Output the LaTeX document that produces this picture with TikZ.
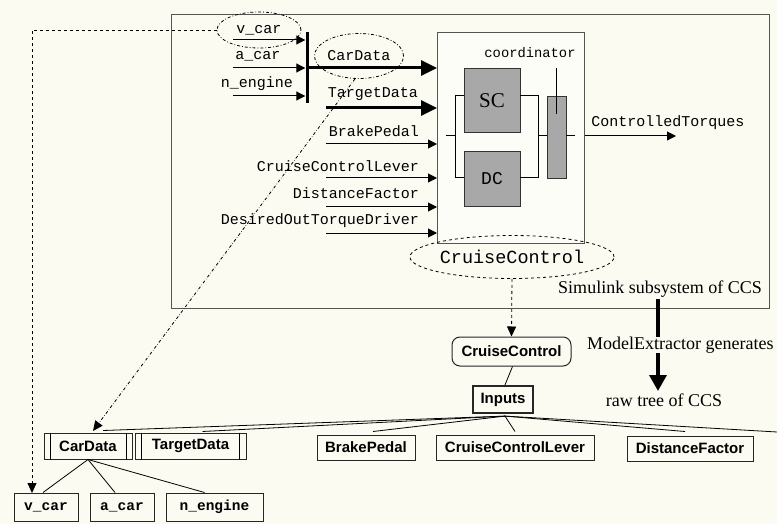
\documentclass[tikz,border=0pt]{standalone}
\usepackage{fontspec}
\setmainfont{Liberation Serif}
\newfontfamily\monofam{Liberation Mono}
\newfontfamily\sansfam{Liberation Sans}
\usetikzlibrary{arrows.meta,shapes.geometric,calc}

\definecolor{paper}{RGB}{251,251,242}
\definecolor{blockgray}{RGB}{168,168,168}
\definecolor{framegray}{RGB}{85,85,85}

\tikzset{
  sig/.style={draw=black, line width=1pt, -{Triangle[length=9pt,width=9pt]}},
  busarrow/.style={draw=black, line width=3pt, -{Triangle[length=16pt,width=15pt]}},
  wire/.style={draw=black, line width=1pt},
  mlabel/.style={font=\monofam\fontsize{15}{15}\selectfont, inner sep=0pt},
  sigellipse/.style={ellipse, draw=black, line width=0.8pt, inner sep=0pt},
  block/.style={draw=black!80, line width=1pt, fill=blockgray, inner sep=0pt, anchor=north west},
  treebox/.style={draw=black!85, line width=1pt, inner sep=0pt, minimum height=26pt,
    font=\sansfam\bfseries\fontsize{15}{15}\selectfont},
  leafbox/.style={draw=black!85, line width=1pt, inner sep=0pt, minimum height=28pt,
    font=\monofam\bfseries\fontsize{14.5}{14.5}\selectfont},
  treeedge/.style={draw=black, line width=0.8pt},
  note/.style={font=\fontsize{18}{18}\selectfont, inner sep=0pt},
}

\begin{document}
\begin{tikzpicture}[x=1pt,y=-1pt]
\fill[paper] (0,0) rectangle (777,524);
\useasboundingbox (0,0) rectangle (777,524);

% ---------- Simulink subsystem ----------
\node[draw=framegray, line width=1.4pt, minimum width=598pt, minimum height=294pt,
      inner sep=0pt, anchor=north west] (simbox) at (171,14) {};
\node[draw=framegray, line width=1.2pt, fill=white!40!paper, minimum width=147pt, minimum height=211pt,
      inner sep=0pt, anchor=north west] (ccbox) at (437,32) {};

% controllers and coordinator
\node[block, minimum width=56pt, minimum height=64pt] (sc) at (464,68) {};
\node[font=\fontsize{21}{21}\selectfont, inner sep=0pt] (sclab) at (492,101) {SC};
\node[block, minimum width=56pt, minimum height=55pt] (dc) at (464,151) {};
\node[font=\monofam\fontsize{18}{18}\selectfont, inner sep=0pt] (dclab) at (492,179) {DC};
\node[block, minimum width=19pt, minimum height=82pt] (coord) at (547,96) {};
\node[font=\monofam\fontsize{13.8}{13.8}\selectfont, inner sep=0pt] (coordlab) at (530,53) {coordinator};
\draw[wire] (556,68) -- (556,114);

\draw[wire] (464,96) -- (455,96) -- (455,178) -- (464,178);
\draw[wire] (446,136) -- (455,136);
\draw[wire] (520,96) -- (538,96) -- (538,178) -- (520,178);
\draw[wire] (538,136) -- (547,136);
\draw[wire] (566,136) -- (575,136);

% output
\coordinate (ctq) at (676,136);
\draw[sig] (ccbox.east |- ctq) -- (ctq);
\node[mlabel] (ctqlab) at (668,123) {ControlledTorques};

% bus creator for CarData
\node[fill=black, minimum width=3pt, minimum height=71pt, inner sep=0pt] (bus) at (307,67.5) {};
\coordinate (vin) at (233,40);
\coordinate (ain) at (233,68);
\coordinate (nin) at (233,96);
\draw[sig] (vin) -- (vin -| bus.west);
\draw[sig] (ain) -- (ain -| bus.west);
\draw[sig] (nin) -- (nin -| bus.west);
\node[sigellipse, dash dot, minimum width=84pt, minimum height=36pt, font=\monofam\fontsize{15}{15}\selectfont] (vell) at (259,30) {v\_car};
\node[mlabel] (alab) at (258,56) {a\_car};
\node[mlabel] (nlab) at (257,84) {n\_engine};

% inputs of the CruiseControl block
\coordinate (cdin) at (437,68);
\draw[busarrow] (bus.east |- cdin) -- (cdin);
\node[sigellipse, dash dot, minimum width=84pt, minimum height=45pt, font=\monofam\fontsize{15}{15}\selectfont] (cdell) at (359,56) {CarData};

\coordinate (tdtail) at (326,108);
\draw[busarrow] (tdtail) -- (tdtail -| ccbox.west);
\node[mlabel, anchor=east] (tdlab) at (418,94) {TargetData};

\coordinate (bptail) at (326,144);
\coordinate (cltail) at (326,178);
\coordinate (dftail) at (326,207);
\coordinate (dotail) at (326,233);
\draw[sig] (bptail) -- (bptail -| ccbox.west);
\draw[sig] (cltail) -- (cltail -| ccbox.west);
\draw[sig] (dftail) -- (dftail -| ccbox.west);
\draw[sig] (dotail) -- (dotail -| ccbox.west);
\node[mlabel, anchor=east] (bplab) at (419,131) {BrakePedal};
\node[mlabel, anchor=east] (cllab) at (419,166) {CruiseControlLever};
\node[mlabel, anchor=east] (dflab) at (419,193) {DistanceFactor};
\node[mlabel, anchor=east] (dolab) at (419,221) {DesiredOutTorqueDriver};

\node[sigellipse, dashed, minimum width=166pt, minimum height=43pt, font=\monofam\fontsize{18.5}{18.5}\selectfont] (ccell) at (512,257) {CruiseControl};

% ---------- extraction step ----------
\node[note] (simlab) at (660,289) {Simulink subsystem of CCS};
\coordinate (mxa) at (658,299);
\coordinate (mxb) at (658,391);
\draw[line width=3.5pt, -{Triangle[length=16pt,width=17pt]}] (mxa) -- (mxb);
\node[note, fill=paper, anchor=west] (mexlab) at (587,345) {ModelExtractor generates};
\node[note] (rawlab) at (664,400) {raw tree of CCS};

% ---------- raw tree ----------
\node[treebox, rounded corners=8pt, minimum width=119pt, minimum height=29pt] (tcc) at (511.5,351.5) {CruiseControl};
\node[treebox, line width=2.2pt, minimum width=60pt, minimum height=27pt] (tin) at (503,399.5) {Inputs};

\node[treebox, minimum width=88pt] (tcar) at (88,446) {CarData};
\draw[treeedge] ($(tcar.north west)+(7,0)$) -- ($(tcar.south west)+(7,0)$);
\draw[treeedge] ($(tcar.north east)+(-6,0)$) -- ($(tcar.south east)+(-6,0)$);
\node[treebox, minimum width=111pt] (ttd) at (190.5,446) {TargetData};
\draw[treeedge] ($(ttd.north west)+(7,0)$) -- ($(ttd.south west)+(7,0)$);
\draw[treeedge] ($(ttd.north east)+(-7,0)$) -- ($(ttd.south east)+(-7,0)$);
\node[treebox, minimum width=98pt, minimum height=25pt] (tbp) at (366,447.5) {BrakePedal};
\node[treebox, minimum width=158pt, minimum height=25pt] (tcl) at (515,447.5) {CruiseControlLever};
\node[treebox, minimum width=126pt, minimum height=25pt] (tdf) at (690,448.5) {DistanceFactor};
\coordinate (toff) at (777,432);

\node[leafbox, minimum width=64pt] (lv) at (46,507) {v\_car};
\node[leafbox, minimum width=64pt] (la) at (122,507) {a\_car};
\node[leafbox, minimum width=97pt] (ln) at (214.5,507) {n\_engine};

\draw[treeedge] ($(tcc.south)+(1,0)$) -- ($(tin.north)+(2,0)$);
\coordinate (tinb) at ($(tin.south)+(2,2)$);
\draw[treeedge] (tinb) -- ($(tcar.north)+(15,-2)$);
\draw[treeedge] (tinb) -- ($(ttd.north)+(12,-1)$);
\draw[treeedge] (tinb) -- ($(tbp.north)+(7,-3)$);
\draw[treeedge] (tinb) -- ($(tcl.north)+(0,-3)$);
\draw[treeedge] (tinb) -- ($(tdf.north)+(-5,-4)$);
\draw[treeedge] (tinb) -- (toff);

\draw[treeedge] (tcar.south) -- ($(lv.north)+(-3,0)$);
\draw[treeedge] (tcar.south) -- ($(la.north)+(-7,0)$);
\draw[treeedge] (tcar.south) -- ($(ln.north)+(-10,0)$);

% ---------- correspondence links ----------
\coordinate (vdrop) at (32,493);
\draw[dashed, line width=0.8pt, -{Triangle[length=10pt,width=9pt]}] (vell.west) -- (vell.west -| vdrop) -- (vdrop);
\coordinate (cdtip) at (93,431);
\draw[dash dot, line width=0.8pt, -{Triangle[length=10pt,width=9pt]}] ($(cdell.south)+(-4,0)$) -- (cdtip);
\draw[dashed, line width=0.8pt, -{Triangle[length=10pt,width=9pt]}] (ccell.south) -- (tcc.north);
\end{tikzpicture}
\end{document}
